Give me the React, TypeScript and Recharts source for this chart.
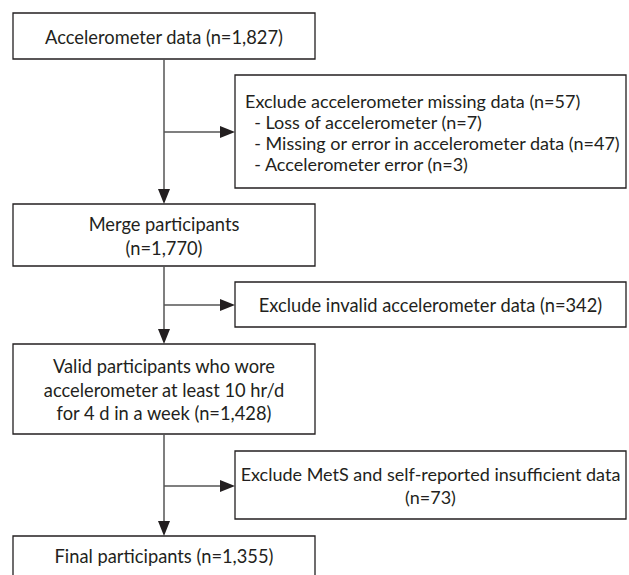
import React from 'react';
import {
  ComposedChart,
  XAxis,
  YAxis,
  ReferenceArea,
  ReferenceLine,
  Scatter,
} from 'recharts';

// Text of the main flow boxes (top to bottom)
const stageLines: string[][] = [
  ['Accelerometer data (n=1,827)'],
  ['Merge participants', '(n=1,770)'],
  ['Valid participants who wore', 'accelerometer at least 10 hr/d', 'for 4 d in a week (n=1,428)'],
  ['Final participants (n=1,355)'],
];

// Text of the exclusion boxes
const excludeLines: string[][] = [
  [
    'Exclude accelerometer missing data (n=57)',
    '  - Loss of accelerometer (n=7)',
    '  - Missing or error in accelerometer data (n=47)',
    '  - Accelerometer error (n=3)',
  ],
  ['Exclude invalid accelerometer data (n=342)'],
  ['Exclude MetS and self-reported insufficient data', '(n=73)'],
];

// Layout (pixel space of the 629x575 canvas)
const W = 629;
const H = 575;
const stageX = [13, 315];
const stageY: [number, number][] = [
  [13, 59],
  [204, 266],
  [344, 434],
  [536, 600],
];
const excludeX = [235, 626];
const excludeY: [number, number][] = [
  [75, 188],
  [282, 327],
  [451, 519],
];
const branchY = [132, 305, 486];
const spineX = 164;

const INK = '#231f20';
const FONT = 'Lato, "Open Sans", sans-serif';

const makeLabel = (lines: string[], align: 'middle' | 'start', gap: number, size: number) => (props: any) => {
  const vb = props.viewBox || {};
  const { x, y, width, height } = vb;
  const cy = y + Math.min(height, H - y) / 2 + 1.5;
  const first = cy - ((lines.length - 1) * gap) / 2;
  return (
    <text
      fill={INK}
      fontSize={size}
      fontFamily={FONT}
      textAnchor={align}
      style={{ whiteSpace: 'pre' }}
    >
      {lines.map((t, i) => (
        <tspan key={i} x={align === 'middle' ? x + width / 2 : x + 10} y={first + i * gap} dy="0.35em">
          {t}
        </tspan>
      ))}
    </text>
  );
};

const arrowHeads = [
  ...stageY.slice(1).map((s) => ({ x: spineX, y: s[0], dir: 'down' })),
  ...branchY.map((b) => ({ x: excludeX[0], y: b, dir: 'right' })),
];

const ArrowHead = (p: any) => {
  const { cx, cy, payload } = p;
  const L = 15;
  const hw = 6;
  const d =
    payload.dir === 'down'
      ? `M${cx},${cy} L${cx - hw},${cy - L} L${cx + hw},${cy - L} Z`
      : `M${cx},${cy} L${cx - L},${cy - hw} L${cx - L},${cy + hw} Z`;
  return <path d={d} fill={INK} />;
};

export default function App() {
  const spineSegments: [number, number][] = [
    [stageY[0][1], stageY[1][0] - 10],
    [stageY[1][1], stageY[2][0] - 10],
    [stageY[2][1], stageY[3][0] - 10],
  ];
  return (
    <div style={{ position: 'absolute', left: 0, top: 0, background: '#fff' }}>
      <ComposedChart width={W} height={H} data={[]} margin={{ top: 0, right: 0, bottom: 0, left: 0 }}>
        <XAxis type="number" dataKey="x" domain={[0, W]} hide allowDataOverflow />
        <YAxis type="number" dataKey="y" domain={[0, H]} reversed hide allowDataOverflow />

        {spineSegments.map((s, i) => (
          <ReferenceLine
            key={'v' + i}
            segment={[{ x: spineX, y: s[0] }, { x: spineX, y: s[1] }]}
            stroke="#555"
            strokeWidth={1.5}
            ifOverflow="visible"
          />
        ))}
        {branchY.map((b, i) => (
          <ReferenceLine
            key={'h' + i}
            segment={[{ x: spineX, y: b }, { x: excludeX[0] - 10, y: b }]}
            stroke="#555"
            strokeWidth={1.5}
            ifOverflow="visible"
          />
        ))}

        {stageY.map((s, i) => (
          <ReferenceArea
            key={'s' + i}
            x1={stageX[0]}
            x2={stageX[1]}
            y1={s[0]}
            y2={s[1]}
            fill="#fff"
            fillOpacity={1}
            stroke={INK}
            strokeWidth={1.3}
            ifOverflow="visible"
            label={makeLabel(stageLines[i], 'middle', 23.5, 18.3)}
          />
        ))}
        {excludeY.map((s, i) => (
          <ReferenceArea
            key={'e' + i}
            x1={excludeX[0]}
            x2={excludeX[1]}
            y1={s[0]}
            y2={s[1]}
            fill="#fff"
            fillOpacity={1}
            stroke={INK}
            strokeWidth={1.3}
            ifOverflow="visible"
            label={makeLabel(excludeLines[i], i === 0 ? 'start' : 'middle', i === 0 ? 21 : 23, i === 1 ? 18.3 : 18)}
          />
        ))}

        <Scatter data={arrowHeads} dataKey="y" shape={ArrowHead} isAnimationActive={false} />
      </ComposedChart>
    </div>
  );
}
